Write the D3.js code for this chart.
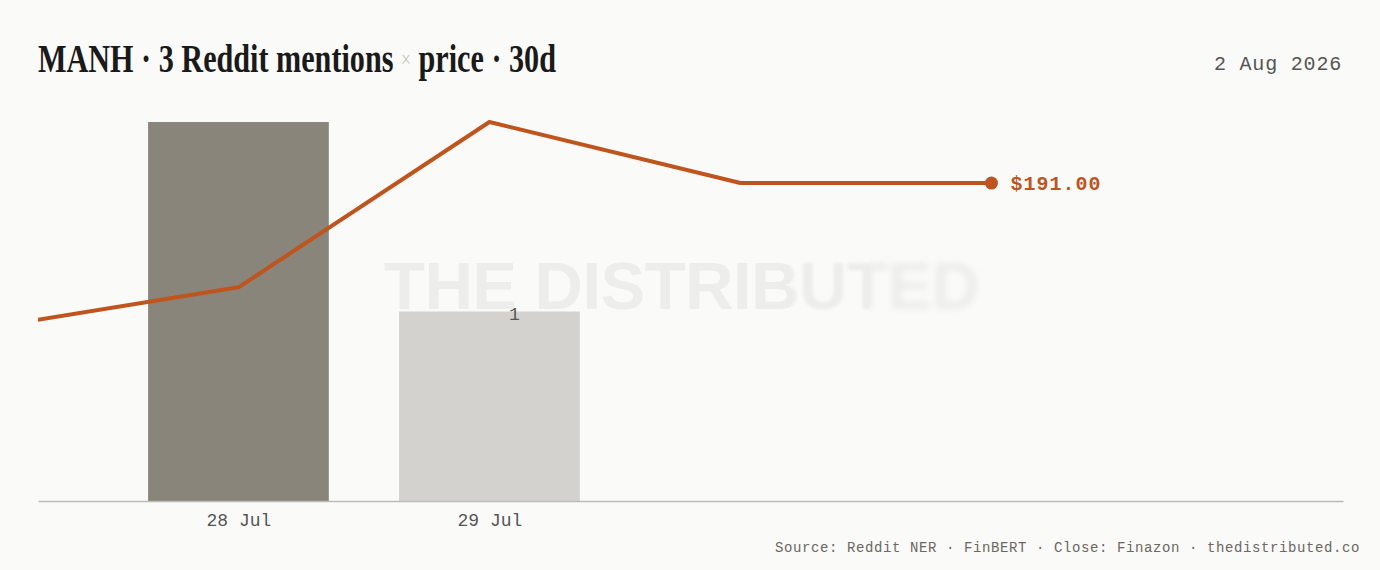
<!DOCTYPE html>
<html>
<head>
<meta charset="utf-8">
<script src="https://cdn.jsdelivr.net/npm/d3@7"></script>
<style>
  html, body { margin: 0; padding: 0; background: #fafaf8; }
  svg { display: block; }
</style>
</head>
<body>
<div id="chart"></div>
<script>
// mentions per day (bars)
const mentionDates = ["2026-07-28", "2026-07-29"];
const mentionCounts = [2, 1];
const mentionColors = ["#8a857b", "#d3d2ce"];
const mentionLabels = ["", "1"];

// close price per day (line)
const priceDates = ["2026-07-27", "2026-07-28", "2026-07-29", "2026-07-30", "2026-07-31"];
const priceValues = [179.6, 182.8, 195.8, 191.0, 191.0];

const tickLabels = ["28 Jul", "29 Jul"];
const titleParts = ["MANH · 3 Reddit mentions ", "×", " price · 30d"];
const dateStamp = "2 Aug 2026";
const sourceText = "Source: Reddit NER · FinBERT · Close: Finazon · thedistributed.co";

const width = 1380, height = 570;
const margin = { top: 122, right: 37, bottom: 69, left: 38 };
const innerWidth = width - margin.left - margin.right;
const innerHeight = height - margin.top - margin.bottom;
const mono = "'Liberation Mono', 'DejaVu Sans Mono', monospace";

const parse = d3.timeParse("%Y-%m-%d");
const mentions = mentionDates.map((d, i) => ({ date: parse(d), count: mentionCounts[i], color: mentionColors[i], label: mentionLabels[i] }));
const prices = priceDates.map((d, i) => ({ date: parse(d), price: priceValues[i] }));

const svg = d3.select("#chart")
  .append("svg")
    .attr("width", width)
    .attr("height", height);

svg.append("rect")
  .attr("width", width)
  .attr("height", height)
  .attr("fill", "#fafaf8");

const defs = svg.append("defs");
defs.append("clipPath").attr("id", "plot-clip")
  .append("rect")
    .attr("width", innerWidth)
    .attr("height", innerHeight + 10)
    .attr("y", -10);
defs.append("filter").attr("id", "blur-a")
  .attr("x", "-10%").attr("y", "-30%").attr("width", "120%").attr("height", "160%")
  .append("feGaussianBlur").attr("stdDeviation", 1.6);
defs.append("filter").attr("id", "blur-b")
  .attr("x", "-10%").attr("y", "-30%").attr("width", "120%").attr("height", "160%")
  .append("feGaussianBlur").attr("stdDeviation", 3.2);

// title
const title = svg.append("text")
  .attr("x", 38)
  .attr("y", 72)
  .attr("textLength", 518)
  .attr("lengthAdjust", "spacingAndGlyphs")
  .style("font-family", "'Liberation Serif', 'DejaVu Serif', serif")
  .style("font-weight", "bold")
  .style("font-size", "41px")
  .attr("fill", "#1a1a1a");
title.append("tspan").text(titleParts[0]);
title.append("tspan").text(titleParts[1])
  .attr("fill", "#c8c6c0")
  .attr("dy", -5)
  .style("font-weight", "normal")
  .style("font-size", "24px");
title.append("tspan").text(titleParts[2])
  .attr("dy", 5);

svg.append("text")
  .attr("x", 1342)
  .attr("y", 70)
  .attr("text-anchor", "end")
  .style("font-family", mono)
  .style("font-size", "20px")
  .style("letter-spacing", "0.8px")
  .attr("fill", "#555")
  .text(dateStamp);

const innerChart = svg.append("g")
  .attr("transform", `translate(${margin.left}, ${margin.top})`);

// scales
const xScale = d3.scaleTime()
  .domain([new Date(2026, 6, 27, 4, 50), new Date(2026, 7, 1, 9, 37)])
  .range([0, innerWidth]);
const dayWidth = xScale(d3.timeDay.offset(mentions[0].date, 1)) - xScale(mentions[0].date);
const barWidth = dayWidth * 0.72;

const yCount = d3.scaleLinear()
  .domain([0, d3.max(mentionCounts)])
  .range([innerHeight, 0]);

const yPrice = d3.scaleLinear()
  .domain([166, 195.8])
  .range([innerHeight, 0]);

// watermark
const wm = innerChart.append("g").attr("class", "watermark");
const wmParts = [
  { x0: 0, x1: 790, filter: null },
  { x0: 790, x1: 870, filter: "url(#blur-a)" },
  { x0: 870, x1: 1100, filter: "url(#blur-b)" }
];
wmParts.forEach((p, i) => {
  defs.append("clipPath").attr("id", `wm-clip-${i}`)
    .append("rect")
      .attr("x", p.x0 - margin.left)
      .attr("y", 100)
      .attr("width", p.x1 - p.x0)
      .attr("height", 120);
  wm.append("g")
    .attr("clip-path", `url(#wm-clip-${i})`)
    .append("text")
      .attr("x", 384 - margin.left)
      .attr("y", 309 - margin.top)
      .attr("filter", p.filter)
      .style("font-family", "'Liberation Sans', Arial, sans-serif")
      .style("font-weight", "bold")
      .style("font-size", "67px")
      .style("letter-spacing", "-0.5px")
      .attr("fill", "#ededeb")
      .text("THE DISTRIBUTED");
});

// bars
innerChart.append("g")
    .attr("class", "bars")
  .selectAll("rect")
  .data(mentions)
  .join("rect")
    .attr("x", d => xScale(d.date) - barWidth / 2)
    .attr("y", d => yCount(d.count))
    .attr("width", barWidth)
    .attr("height", d => innerHeight - yCount(d.count))
    .attr("fill", d => d.color);

innerChart.append("g")
    .attr("class", "bar-labels")
  .selectAll("text")
  .data(mentions.filter(d => d.label))
  .join("text")
    .attr("x", d => xScale(d.date) + 25)
    .attr("y", d => yCount(d.count) + 8)
    .attr("text-anchor", "middle")
    .style("font-family", mono)
    .style("font-size", "18px")
    .attr("fill", "#555")
    .text(d => d.label);

// x axis
const bottomAxis = d3.axisBottom(xScale)
  .tickValues(mentions.map(d => d.date))
  .tickFormat((d, i) => tickLabels[i])
  .tickSize(0)
  .tickSizeOuter(0)
  .tickPadding(12);
const xAxis = innerChart.append("g")
    .attr("class", "axis axis-x")
    .attr("transform", `translate(0, ${innerHeight})`)
    .call(bottomAxis);
xAxis.select(".domain")
  .attr("stroke", "#bdbbb7")
  .attr("stroke-width", 1.5);
xAxis.selectAll("text")
  .style("font-family", mono)
  .style("font-size", "18px")
  .attr("fill", "#555");

// price line
const line = d3.line()
  .x(d => xScale(d.date))
  .y(d => yPrice(d.price));

innerChart.append("g")
    .attr("clip-path", "url(#plot-clip)")
  .append("path")
    .datum(prices)
    .attr("d", line)
    .attr("fill", "none")
    .attr("stroke", "#bf541d")
    .attr("stroke-width", 4)
    .attr("stroke-linejoin", "round");

const last = prices[prices.length - 1];
innerChart.append("circle")
  .attr("cx", xScale(last.date))
  .attr("cy", yPrice(last.price))
  .attr("r", 6.5)
  .attr("fill", "#bf541d");

innerChart.append("text")
  .attr("x", xScale(last.date) + 19)
  .attr("y", yPrice(last.price) + 7)
  .style("font-family", mono)
  .style("font-weight", "bold")
  .style("font-size", "20px")
  .style("letter-spacing", "1px")
  .attr("fill", "#bf541d")
  .text(d3.format("$.2f")(last.price));

// footer
svg.append("text")
  .attr("x", 1360)
  .attr("y", 552)
  .attr("text-anchor", "end")
  .style("font-family", mono)
  .style("font-size", "14px")
  .style("letter-spacing", "0.6px")
  .attr("fill", "#6b6762")
  .text(sourceText);
</script>
</body>
</html>
